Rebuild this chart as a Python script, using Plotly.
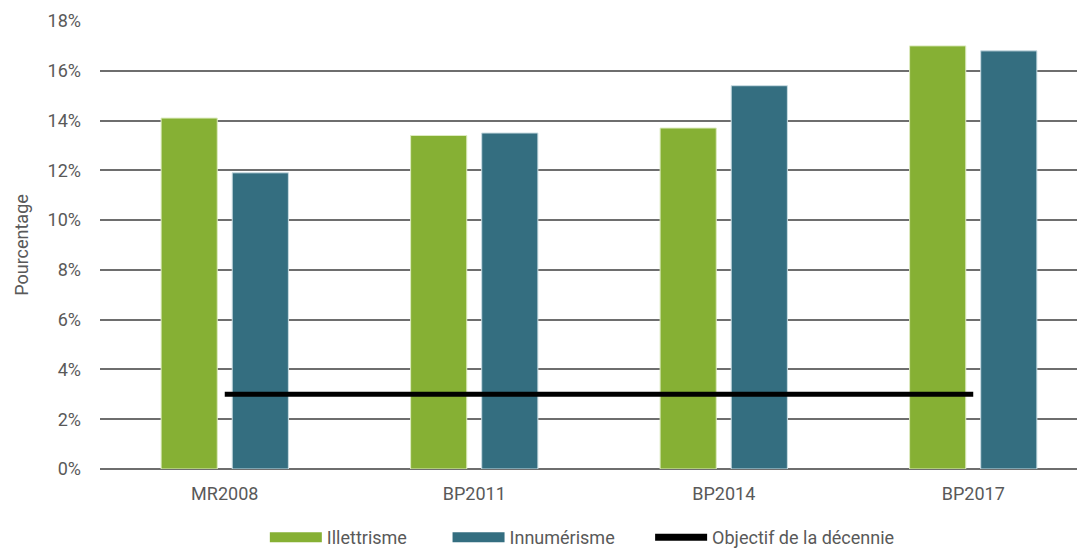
import plotly.graph_objects as go

categories = ["MR2008", "BP2011", "BP2014", "BP2017"]
illettrisme = [14.1, 13.4, 13.7, 17.0]
innumerisme = [11.9, 13.5, 15.4, 16.8]
objectif = [3, 3, 3, 3]
y_ticks = [0, 2, 4, 6, 8, 10, 12, 14, 16, 18]
y_ticklabels = [f"{v}%" for v in y_ticks]

GREEN = "#86B034"
TEAL = "#346E80"
FONT = "Roboto, sans-serif"
TXT = "#595959"

fig = go.Figure()
fig.add_trace(go.Bar(x=categories, y=illettrisme, name="Illettrisme", showlegend=False,
                     marker=dict(color=GREEN, line=dict(color="#DDEBC0", width=1))))
fig.add_trace(go.Bar(x=categories, y=innumerisme, name="Innumérisme", showlegend=False,
                     marker=dict(color=TEAL, line=dict(color="#C9DCE2", width=1))))
fig.add_trace(go.Scatter(x=categories, y=objectif, name="Objectif de la décennie",
                         mode="lines", showlegend=False,
                         line=dict(color="#000000", width=5)))
# legend entries
fig.add_trace(go.Scatter(x=[None], y=[None], name="Illettrisme", mode="lines",
                         line=dict(color=GREEN, width=10), legend="legend"))
fig.add_trace(go.Scatter(x=[None], y=[None], name="Innumérisme", mode="lines",
                         line=dict(color=TEAL, width=10), legend="legend2"))
fig.add_trace(go.Scatter(x=[None], y=[None], name="Objectif de la décennie", mode="lines",
                         line=dict(color="#000000", width=7), legend="legend3"))

leg = dict(orientation="h", xanchor="left", y=-0.154, yanchor="middle",
           font=dict(size=18, color=TXT), itemwidth=52, bgcolor="rgba(0,0,0,0)")

fig.update_layout(
    width=1085, height=548,
    margin=dict(l=92, r=0, t=13, b=87),
    paper_bgcolor="white", plot_bgcolor="white",
    font=dict(family=FONT, size=18, color=TXT),
    barmode="group", bargap=0.43, bargroupgap=0.21,
    showlegend=True,
    legend=dict(leg, x=0.166),
    legend2=dict(leg, x=0.350),
    legend3=dict(leg, x=0.554),
    xaxis=dict(range=[-0.5, 3.48], showgrid=False, showline=False, ticks="",
               ticklabelstandoff=12, tickfont=dict(size=18, color=TXT)),
    yaxis=dict(range=[0, 18], tickvals=y_ticks, ticktext=y_ticklabels,
               showgrid=True, gridcolor="#6E6E6E", gridwidth=1.5, zeroline=True,
               zerolinecolor="#6E6E6E", zerolinewidth=1.5, showline=False,
               ticks="", ticklabelstandoff=18,
               title=dict(text="Pourcentage", standoff=14, font=dict(size=18, color=TXT)),
               tickfont=dict(size=18, color=TXT)),
)

fig.write_html("out.html")
